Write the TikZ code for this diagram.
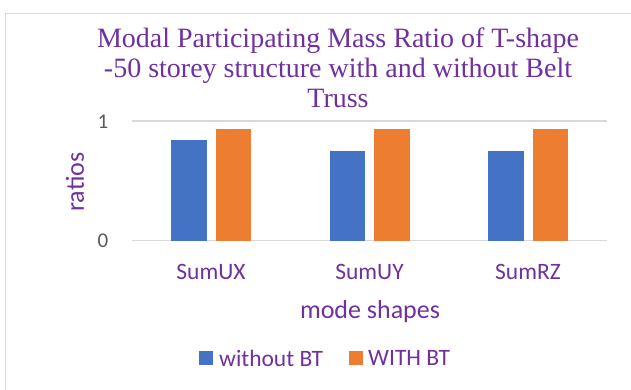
\documentclass[tikz,border=0pt]{standalone}
\usepackage{fontspec}
\setmainfont{Liberation Serif}
\setsansfont{Carlito}
\definecolor{titlepurple}{HTML}{7030A0}
\definecolor{barblue}{HTML}{4472C4}
\definecolor{barorange}{HTML}{ED7D31}
\definecolor{gridgray}{HTML}{D9D9D9}
\definecolor{ticktext}{HTML}{595959}
\begin{document}
\begin{tikzpicture}[x=1pt,y=-1pt,
    axlabel/.style={font=\sffamily\fontsize{26}{30}\selectfont, text=titlepurple, inner sep=0pt},
    catlabel/.style={font=\sffamily\fontsize{23.5}{28}\selectfont, text=titlepurple, inner sep=0pt},
    ticklabel/.style={font=\sffamily\fontsize{21}{24}\selectfont, text=ticktext, inner sep=0pt},
    gridline/.style={draw=gridgray, line width=1.5pt},
    legendkey/.style={minimum size=14pt, inner sep=0pt, outer sep=0pt}]
  \useasboundingbox (0,0) rectangle (631,390);
  % ------ frame and title ------------------
  \draw [gridgray, line width=1pt] (5.5,390) |- (631,13.5);
  \node [align=center, font=\fontsize{28}{30}\selectfont, text=titlepurple] (title) at (338,68)
    {Modal Participating Mass Ratio of T-shape\\-50 storey structure with and without Belt\\Truss};
  % ------ axes ------------------
  \coordinate (g1l) at (132,121);   \coordinate (g1r) at (607,121);
  \coordinate (g0l) at (132,240.5); \coordinate (g0r) at (607,240.5);
  \draw [gridline] (g1l) -- (g1r);
  \draw [gridline] (g0l) -- (g0r);
  \node [ticklabel] (t1) at (103,122) {1};
  \node [ticklabel] (t0) at (103,241) {0};
  \node [axlabel, rotate=90] (ylab) at (75,182) {ratios};
  % ------ bars ------------------
  \foreach \c/\a/\b/\name in {211/0.84/0.933/SumUX, 369.5/0.75/0.933/SumUY, 528/0.75/0.935/SumRZ}{
    \fill [barblue]   (\c-40,240.5) rectangle (\c-4.5,240.5-119.5*\a);
    \fill [barorange] (\c+4.5,240.5) rectangle (\c+40,240.5-119.5*\b);
    \node [catlabel] (\name) at (\c,272) {\name};
  }
  \node [axlabel] (xlab) at (370,312) {mode shapes};
  % ------ legend ------------------
  \node [legendkey, fill=barblue] (kblue) at (206,358) {};
  \node [catlabel, anchor=west] (lblue) at (219,358) {without BT};
  \node [legendkey, fill=barorange] (korange) at (356,358) {};
  \node [catlabel, anchor=west] (lorange) at (368,358) {WITH BT};
\end{tikzpicture}
\end{document}
